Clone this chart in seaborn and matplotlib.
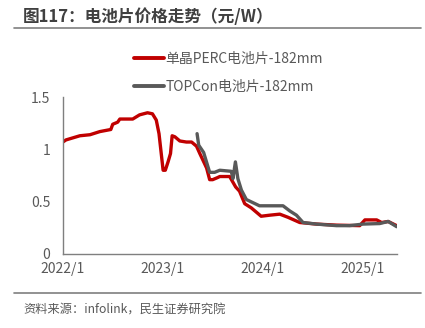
import matplotlib
matplotlib.use("Agg")
import matplotlib.pyplot as plt
from matplotlib.lines import Line2D
import pandas as pd
import seaborn as sns

# Cell prices (元/W)
perc_label = "单晶PERC电池片-182mm"
topcon_label = "TOPCon电池片-182mm"

perc_dates = [
    "2022-01-01", "2022-01-12", "2022-03-04", "2022-04-10", "2022-05-16", "2022-06-25",
    "2022-07-02", "2022-07-20", "2022-07-28", "2022-09-13", "2022-10-08", "2022-11-06",
    "2022-11-24", "2022-12-08", "2022-12-18", "2023-01-02", "2023-01-10", "2023-01-20",
    "2023-01-29", "2023-02-04", "2023-02-14", "2023-03-04", "2023-03-28", "2023-04-16",
    "2023-05-04", "2023-05-16", "2023-06-03", "2023-06-10", "2023-06-21", "2023-07-02",
    "2023-07-20", "2023-07-28", "2023-09-02", "2023-09-24", "2023-10-08", "2023-10-27",
    "2023-11-20", "2023-12-08", "2023-12-26", "2024-01-26", "2024-03-03", "2024-04-02",
    "2024-05-15", "2024-07-15", "2024-09-26", "2024-12-20", "2025-01-08", "2025-02-20",
    "2025-03-10", "2025-04-03", "2025-05-04",
]
perc_values = [
    1.07, 1.09, 1.13, 1.14, 1.17, 1.19,
    1.24, 1.26, 1.29, 1.29, 1.33, 1.35,
    1.34, 1.28, 1.15, 0.80, 0.80, 0.88,
    0.96, 1.13, 1.12, 1.08, 1.07, 1.07,
    1.03, 0.96, 0.86, 0.82, 0.71, 0.71,
    0.73, 0.74, 0.74, 0.64, 0.60, 0.48,
    0.44, 0.40, 0.36, 0.37, 0.38, 0.35,
    0.30, 0.285, 0.275, 0.27, 0.325, 0.325,
    0.30, 0.31, 0.27,
]

topcon_dates = [
    "2023-05-06", "2023-05-12", "2023-05-30", "2023-06-21", "2023-07-09", "2023-07-28",
    "2023-09-08", "2023-09-14", "2023-09-23", "2023-10-02", "2023-10-15", "2023-11-02",
    "2023-11-26", "2023-12-20", "2024-03-15", "2024-04-09", "2024-05-03", "2024-05-27",
    "2024-07-15", "2024-09-26", "2024-11-13", "2025-01-01", "2025-03-03", "2025-04-03",
    "2025-05-04",
]
topcon_values = [
    1.15, 1.04, 0.97, 0.78, 0.78, 0.80,
    0.79, 0.72, 0.88, 0.72, 0.61, 0.52,
    0.49, 0.46, 0.46, 0.41, 0.37, 0.30,
    0.285, 0.27, 0.27, 0.285, 0.29, 0.31,
    0.26,
]

y_ticks = [0, 0.5, 1, 1.5]
y_tick_labels = ["0", "0.5", "1", "1.5"]
x_ticks = ["2022-01-01", "2023-01-01", "2024-01-01", "2025-01-01"]
x_tick_labels = ["2022/1", "2023/1", "2024/1", "2025/1"]

df = pd.concat([
    pd.DataFrame({"date": pd.to_datetime(perc_dates), "price": perc_values, "series": perc_label}),
    pd.DataFrame({"date": pd.to_datetime(topcon_dates), "price": topcon_values, "series": topcon_label}),
], ignore_index=True)

sns.set_theme(style="white")
plt.rcParams["font.family"] = ["Noto Sans CJK SC", "DejaVu Sans"]

text_gray = "#595959"
fig = plt.figure(figsize=(4.25, 3.28), dpi=100)
ax = fig.add_axes([0.148, 0.226, 0.786, 0.478])

sns.lineplot(
    data=df, x="date", y="price", hue="series",
    palette={perc_label: "#C00000", topcon_label: "#595959"},
    linewidth=2.4, ax=ax, legend=False,
)

ax.set_ylim(0, 1.5)
ax.set_xlim(pd.Timestamp("2022-01-01"), pd.Timestamp("2025-05-05"))
ax.set_yticks(y_ticks)
ax.set_yticklabels(y_tick_labels)
ax.set_xticks(pd.to_datetime(x_ticks))
ax.set_xticklabels(x_tick_labels)
ax.tick_params(axis="y", length=0, pad=9, labelsize=10, labelcolor=text_gray)
ax.tick_params(axis="x", length=0, pad=6, labelsize=10, labelcolor=text_gray)
ax.set_xlabel("")
ax.set_ylabel("")
for side in ["top", "right"]:
    ax.spines[side].set_visible(False)
for side in ["left", "bottom"]:
    ax.spines[side].set_color("#7f7f7f")
    ax.spines[side].set_linewidth(1.0)

handles = [
    Line2D([], [], color="#C00000", lw=2.8),
    Line2D([], [], color="#595959", lw=2.8),
]
fig.legend(
    handles, [perc_label, topcon_label],
    loc="upper left", bbox_to_anchor=(0.3, 0.862),
    frameon=False, fontsize=10, handlelength=2.1, handletextpad=0.15,
    labelspacing=0.98, borderpad=0, labelcolor=text_gray,
)

fig.text(0.054, 0.948, "图117：电池片价格走势（元/W）", fontsize=12, fontweight="bold",
         color="#404040", va="center", ha="left")
fig.add_artist(Line2D([0.033, 0.99], [0.915, 0.915], color="#7f7f7f", lw=1.2,
                      transform=fig.transFigure))
fig.add_artist(Line2D([0.033, 0.99], [0.107, 0.107], color="#7f7f7f", lw=1.2,
                      transform=fig.transFigure))
fig.text(0.054, 0.055, "资料来源：infolink，民生证券研究院", fontsize=8.8,
         color=text_gray, va="center", ha="left")

fig.savefig("out.png", dpi=100)
